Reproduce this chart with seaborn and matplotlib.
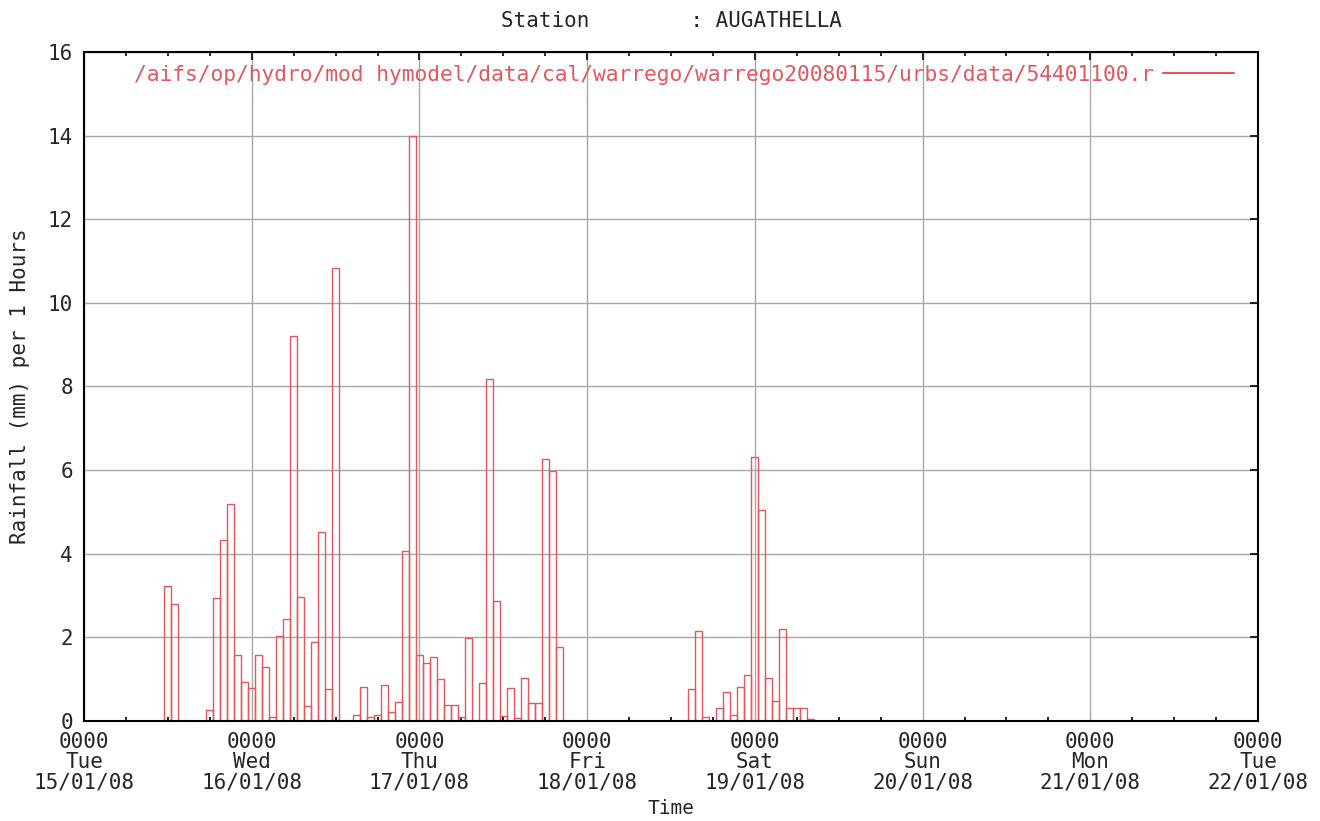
import numpy as np
import pandas as pd
import matplotlib
matplotlib.use("Agg")
import matplotlib.pyplot as plt
from matplotlib.lines import Line2D
import seaborn as sns

# hourly rainfall, hours counted from Tue 15/01/08 0000
hours = [12, 13, 18, 19, 20, 21, 22, 23, 24, 25, 26, 27, 28, 29, 30, 31, 32, 33,
         34, 35, 36, 39, 40, 41, 42, 43, 44, 45, 46, 47, 48, 49, 50, 51, 52, 53,
         54, 55, 57, 58, 59, 60, 61, 62, 63, 64, 65, 66, 67, 68,
         87, 88, 89, 91, 92, 93, 94, 95, 96, 97, 98, 99, 100, 101, 102, 103, 104]
rain_mm = [3.23, 2.79, 0.26, 2.93, 4.33, 5.18, 1.59, 0.93, 0.80, 1.59, 1.28, 0.09,
           2.03, 2.44, 9.21, 2.97, 0.36, 1.90, 4.51, 0.76, 10.83, 0.14, 0.81, 0.09,
           0.14, 0.85, 0.22, 0.45, 4.06, 14.0, 1.59, 1.38, 1.54, 1.01, 0.38, 0.38,
           0.10, 1.98, 0.92, 8.18, 2.86, 0.12, 0.79, 0.07, 1.04, 0.44, 0.44, 6.27,
           5.97, 1.77,
           0.76, 2.16, 0.09, 0.30, 0.70, 0.14, 0.81, 1.10, 6.32, 5.05, 1.02, 0.49,
           2.20, 0.30, 0.30, 0.30, 0.05]

day_names = ["Tue", "Wed", "Thu", "Fri", "Sat", "Sun", "Mon", "Tue"]
day_dates = ["15/01/08", "16/01/08", "17/01/08", "18/01/08",
             "19/01/08", "20/01/08", "21/01/08", "22/01/08"]

station = "AUGATHELLA"
series_name = "/aifs/op/hydro/mod hymodel/data/cal/warrego/warrego20080115/urbs/data/54401100.r"

df = pd.DataFrame({"hour": hours, "rain": rain_mm})

sns.set_style("white")
plt.rcParams["font.family"] = ["DejaVu Sans Mono"]

red = "#e2585e"
fs = 15

fig = plt.figure(figsize=(13.2, 8.21), dpi=100)
ax = fig.add_axes([84 / 1320, 1 - 721 / 821, (1258 - 84) / 1320, (721 - 52) / 821])

n_hours = 24 * (len(day_names) - 1)
sns.histplot(data=df, x="hour", weights="rain", binwidth=1,
             binrange=(-0.5, n_hours + 0.5),
             element="bars", fill=False, color=red, linewidth=1.0, ax=ax)

ax.set_xlim(0, n_hours)
ax.set_ylim(0, 16)

# ticks and grid
ax.set_xticks(np.arange(0, n_hours + 1, 24))
ax.set_xticks(np.arange(0, n_hours + 1, 6), minor=True)
ax.set_xticklabels([f"0000\n{d}\n{dt}" for d, dt in zip(day_names, day_dates)],
                   linespacing=1.0)
ax.set_yticks(np.arange(0, 17, 2))
ax.tick_params(axis="both", which="major", direction="in", length=6, width=1.2,
               color="black", labelsize=fs, top=True, right=True, pad=8)
ax.tick_params(axis="x", which="minor", direction="in", length=3, width=1.2,
               color="black", top=True, bottom=True)
ax.grid(True, which="major", color="#a8a8a8", linewidth=1.0)
ax.set_axisbelow(True)
for sp in ax.spines.values():
    sp.set_color("black")
    sp.set_linewidth(1.5)

ax.set_title(f"Station        : {station}", fontsize=fs, pad=18)
ax.set_xlabel("Time", fontsize=14, labelpad=5)
ax.set_ylabel("Rainfall (mm) per 1 Hours", fontsize=fs, labelpad=13)

# legend: text first, red line sample after it
handle = Line2D([], [], color=red, linewidth=1.5)
ax.legend(handles=[handle], labels=[series_name], loc="upper right",
          frameon=False, markerfirst=False, fontsize=15.3,
          handlelength=3.3, handletextpad=0.45, borderaxespad=0.2,
          labelcolor=red, bbox_to_anchor=(0.99, 1.0))

fig.savefig("out.png", dpi=100, facecolor="white")
